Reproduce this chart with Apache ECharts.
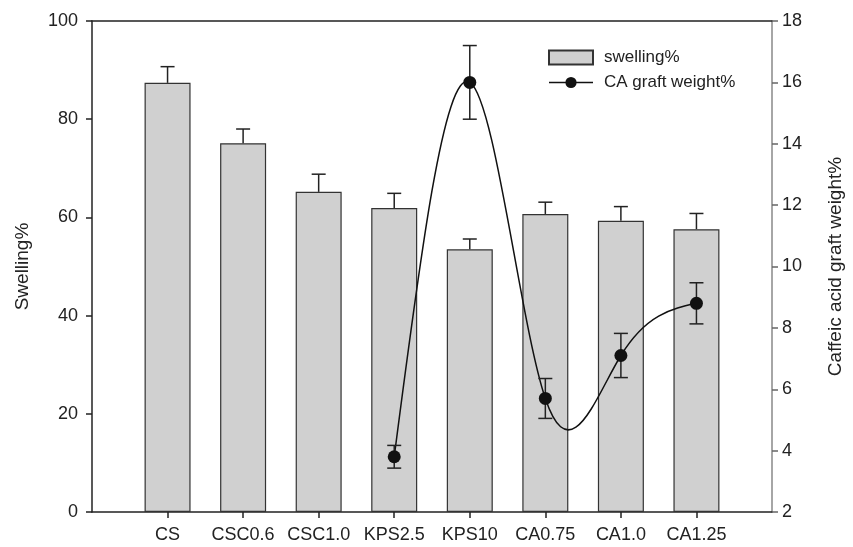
<!DOCTYPE html>
<html>
<head>
<meta charset="utf-8">
<script src="https://cdn.jsdelivr.net/npm/echarts@6/dist/echarts.min.js"></script>
<style>
  html, body { margin: 0; padding: 0; background: #fff; }
  #chart { width: 853px; height: 547px; }
</style>
</head>
<body>
<div id="chart"></div>
<script>
// 样品名称（两端空位用来留出边距）
const categories = ['', 'CS', 'CSC0.6', 'CSC1.0', 'KPS2.5', 'KPS10', 'CA0.75', 'CA1.0', 'CA1.25', '']

// 溶胀率
const swelling = [null, 87.4, 75.1, 65.2, 61.9, 53.5, 60.7, 59.3, 57.6, null]
const swellingErr = [null, 3.3, 2.9, 3.6, 3.0, 2.1, 2.4, 2.9, 3.2, null]

// 咖啡酸接枝率
const graftWeight = [null, null, null, null, 3.8, 16.0, 5.7, 7.1, 8.8, null]
const graftErr = [null, null, null, null, 0.37, 1.2, 0.65, 0.72, 0.67, null]

const leftTicks = { min: 0, max: 100, interval: 20 }
const rightTicks = { min: 2, max: 18, interval: 2 }

const FONT = 'Liberation Sans, Arial, sans-serif'
const INK = '#222'

const chart = echarts.init(document.getElementById('chart'), null, { renderer: 'canvas' })

// 误差线
const errorRender = (values, errs, both) => (params, api) => {
  const i = params.dataIndex
  const v = values[i]
  const e = errs[i]
  if (v == null || e == null) return null
  const top = api.coord([i, v + e])
  const mid = api.coord([i, v])
  const bot = both ? api.coord([i, v - e]) : mid
  const cap = 7
  const style = { stroke: '#222', lineWidth: 1.5 }
  const children = [
    { type: 'line', shape: { x1: top[0], y1: top[1], x2: bot[0], y2: bot[1] }, style },
    { type: 'line', shape: { x1: top[0] - cap, y1: top[1], x2: top[0] + cap, y2: top[1] }, style }
  ]
  if (both) {
    children.push({ type: 'line', shape: { x1: bot[0] - cap, y1: bot[1], x2: bot[0] + cap, y2: bot[1] }, style })
  }
  return { type: 'group', children }
}

// 自然三次样条（原图的曲线样式），转成贝塞尔段画出来
const splineRender = (params, api) => {
  const idx = []
  graftWeight.forEach((v, i) => { if (v != null) idx.push(i) })
  const ys = idx.map(i => graftWeight[i])
  const n = ys.length
  // 二阶导 M，两端为 0（等间距 h=1）
  const M = new Array(n).fill(0)
  const a = [], b = [], c = [], d = []
  for (let k = 1; k < n - 1; k++) {
    a.push(1); b.push(4); c.push(1)
    d.push(6 * (ys[k + 1] - 2 * ys[k] + ys[k - 1]))
  }
  const m = d.length
  for (let k = 1; k < m; k++) {
    const w = a[k] / b[k - 1]
    b[k] -= w * c[k - 1]
    d[k] -= w * d[k - 1]
  }
  const sol = new Array(m)
  for (let k = m - 1; k >= 0; k--) {
    sol[k] = (d[k] - (k < m - 1 ? c[k] * sol[k + 1] : 0)) / b[k]
  }
  for (let k = 0; k < m; k++) M[k + 1] = sol[k]

  const children = []
  for (let k = 0; k < n - 1; k++) {
    const dy = ys[k + 1] - ys[k]
    const s0 = dy - (2 * M[k] + M[k + 1]) / 6
    const s1 = dy + (M[k] + 2 * M[k + 1]) / 6
    const p0 = api.coord([idx[k], ys[k]])
    const p1 = api.coord([idx[k + 1], ys[k + 1]])
    const dx = (p1[0] - p0[0]) / 3
    const c1 = api.coord([idx[k], ys[k] + s0 / 3])
    const c2 = api.coord([idx[k + 1], ys[k + 1] - s1 / 3])
    children.push({
      type: 'bezierCurve',
      shape: {
        x1: p0[0], y1: p0[1], x2: p1[0], y2: p1[1],
        cpx1: p0[0] + dx, cpy1: c1[1], cpx2: p1[0] - dx, cpy2: c2[1]
      },
      style: { stroke: '#111', lineWidth: 1.5, fill: null }
    })
  }
  return { type: 'group', children }
}

chart.setOption({
  animation: false,
  backgroundColor: '#fff',
  textStyle: { fontFamily: FONT },
  grid: { left: 92, right: 79, top: 21, bottom: 35 },
  legend: {
    orient: 'vertical',
    left: 543,
    top: 44,
    itemWidth: 44,
    itemHeight: 14,
    itemGap: 8,
    textStyle: { fontSize: 17, color: INK, fontFamily: FONT, padding: [0, 0, 0, 6] },
    data: [
      { name: 'swelling%', icon: 'rect' },
      { name: 'CA graft weight%', lineStyle: { color: '#111', width: 1.5, opacity: 1 } }
    ]
  },
  xAxis: [
    {
      type: 'category',
      data: categories,
      boundaryGap: false,
      axisLine: { lineStyle: { color: INK, width: 1.5 } },
      axisTick: {
        length: 6,
        interval: (idx, val) => val !== '',
        lineStyle: { color: INK, width: 1.5 }
      },
      axisLabel: {
        interval: 0,
        margin: 14,
        fontSize: 18,
        color: INK,
        fontFamily: FONT
      }
    },
    {
      type: 'category',
      data: categories,
      position: 'top',
      boundaryGap: false,
      axisLine: { lineStyle: { color: INK, width: 1.5 } },
      axisTick: { show: false },
      axisLabel: { show: false }
    }
  ],
  yAxis: [
    {
      type: 'value',
      min: leftTicks.min,
      max: leftTicks.max,
      interval: leftTicks.interval,
      name: 'Swelling%',
      nameLocation: 'middle',
      nameGap: 60,
      nameTextStyle: { fontSize: 19, color: INK, fontFamily: FONT },
      axisLine: { show: true, lineStyle: { color: INK, width: 1.5 } },
      axisTick: { show: true, length: 6, lineStyle: { color: INK, width: 1.5 } },
      axisLabel: { margin: 14, fontSize: 18, color: INK, fontFamily: FONT },
      splitLine: { show: false }
    },
    {
      type: 'value',
      min: rightTicks.min,
      max: rightTicks.max,
      interval: rightTicks.interval,
      name: 'Caffeic acid graft weight%',
      nameLocation: 'middle',
      nameGap: 54,
      nameRotate: 90,
      nameTextStyle: { fontSize: 19, color: INK, fontFamily: FONT },
      axisLine: { show: true, lineStyle: { color: '#888', width: 1.5 } },
      axisTick: { show: true, length: 6, lineStyle: { color: '#666', width: 1.5 } },
      axisLabel: { margin: 10, fontSize: 18, color: INK, fontFamily: FONT },
      splitLine: { show: false }
    }
  ],
  series: [
    {
      name: 'swelling%',
      type: 'bar',
      yAxisIndex: 0,
      barWidth: 46,
      data: swelling.map(v => (v == null ? '-' : v)),
      itemStyle: { color: '#d0d0d0', borderColor: '#333', borderWidth: 1.2 },
      z: 2
    },
    {
      type: 'custom',
      yAxisIndex: 0,
      renderItem: errorRender(swelling, swellingErr, false),
      data: swelling.map((v, i) => [i, v == null ? 0 : v]),
      z: 3,
      silent: true
    },
    {
      type: 'custom',
      yAxisIndex: 1,
      renderItem: splineRender,
      data: [[0, rightTicks.min]],
      z: 4,
      silent: true
    },
    {
      type: 'custom',
      yAxisIndex: 1,
      renderItem: errorRender(graftWeight, graftErr, true),
      data: graftWeight.map((v, i) => [i, v == null ? 2 : v]),
      z: 4,
      silent: true
    },
    {
      name: 'CA graft weight%',
      type: 'line',
      yAxisIndex: 1,
      data: graftWeight.map(v => (v == null ? '-' : v)),
      symbol: 'circle',
      symbolSize: 13,
      lineStyle: { color: '#111', width: 1.5, opacity: 0 },
      itemStyle: { color: '#111' },
      z: 5
    }
  ]
})
</script>
</body>
</html>
